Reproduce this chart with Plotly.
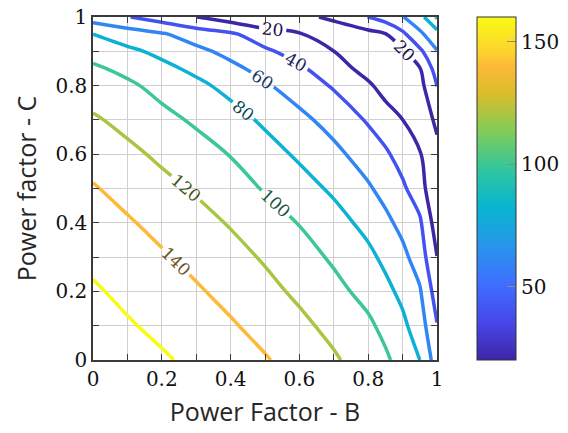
import plotly.graph_objects as go

# Grid of power factors (B along x, C along y)
B_VALUES = [0, 0.1, 0.2, 0.3, 0.4, 0.5, 0.6, 0.7, 0.8, 0.85, 0.9, 0.95, 1.0]
C_VALUES = [0, 0.1, 0.2, 0.3, 0.4, 0.5, 0.6, 0.7, 0.8, 0.85, 0.9, 0.95, 1.0]

# Values (rows: C, columns: B)
Z_VALUES = [
    [172, 167.5, 162.3, 155.7, 148.7, 141.5, 132.4, 122.5, 110, 103, 93, 80, 50],
    [167.5, 161.8, 155.7, 149, 142, 133.7, 124.6, 114.4, 103.4, 95, 84.2, 69.8, 41],
    [162.3, 155.7, 148.9, 142.2, 134.3, 125.7, 116.2, 105.5, 94, 85, 75.3, 62, 30.4],
    [155.7, 149, 142.2, 134.6, 126.6, 117.9, 107.9, 97.2, 84.5, 75.6, 65, 50.6, 20.3],
    [148.7, 142, 134.3, 126.6, 118.5, 108.8, 99.2, 87.6, 74.2, 64.7, 54.4, 43, 9.9],
    [141.5, 133.7, 125.7, 117.9, 108.8, 98.4, 88, 76.7, 62.4, 53.5, 43.2, 29.2, 1],
    [132.4, 124.6, 116.2, 107.9, 99.2, 88, 76.9, 65.1, 50.6, 42.9, 32.2, 21, 12.7],
    [122.5, 114.4, 105.5, 97.2, 87.6, 76.7, 65.1, 52.6, 38, 29.4, 20.2, 2.2, 25.5],
    [110, 103.4, 94, 84.5, 74.2, 62.4, 50.6, 38, 23.2, 12.3, 1.6, 13.5, 40.3],
    [103, 95, 85, 75.6, 64.7, 53.5, 42.9, 29.4, 12.3, 3.7, 8.4, 19, 49],
    [93, 84.2, 75.3, 65, 54.4, 43.2, 32.2, 20.2, 1.6, 8.4, 17.7, 36, 59.1],
    [80, 69.8, 62, 50.6, 43, 29.2, 21, 2.2, 13.5, 19, 36, 56.5, 72.1],
    [50, 41, 30.4, 20.3, 9.9, 1, 12.7, 25.5, 40.3, 49, 59.1, 72.1, 103],
]

LEVELS = [20, 40, 60, 80, 100, 120, 140, 160]
CBAR_MIN, CBAR_MAX = 20, 160
CBAR_TICKS = [50, 100, 150]

PARULA = [
    [0.0, (62, 38, 168)],
    [1 / 9, (71, 71, 235)],
    [2 / 9, (62, 111, 255)],
    [3 / 9, (39, 150, 235)],
    [4 / 9, (8, 181, 208)],
    [5 / 9, (49, 198, 159)],
    [6 / 9, (129, 204, 89)],
    [7 / 9, (220, 189, 41)],
    [0.857, (254, 185, 56)],
    [8 / 9, (252, 207, 48)],
    [1.0, (249, 251, 21)],
]


def cmap(t):
    t = min(max(t, 0.0), 1.0)
    for (t0, c0), (t1, c1) in zip(PARULA[:-1], PARULA[1:]):
        if t0 <= t <= t1:
            f = 0 if t1 == t0 else (t - t0) / (t1 - t0)
            return tuple(c0[i] + f * (c1[i] - c0[i]) for i in range(3))
    return PARULA[-1][1]


def rgb(c, k=1.0):
    return "rgb(%d,%d,%d)" % tuple(int(round(v * k)) for v in c)


COLORSCALE = [[t, rgb(c)] for t, c in PARULA]

SERIF = "DejaVu Serif"
SANS = "Open Sans"
CB_X = 1.1163

fig = go.Figure()

for lev in LEVELS:
    c = cmap((lev - CBAR_MIN) / (CBAR_MAX - CBAR_MIN))
    fig.add_trace(go.Contour(
        x=B_VALUES, y=C_VALUES, z=Z_VALUES,
        autocontour=False,
        contours=dict(start=lev, end=lev, size=20, coloring="none",
                      showlabels=True,
                      labelfont=dict(family=SERIF, size=17, color=rgb(c, 0.42))),
        line=dict(color=rgb(c), width=3.5, smoothing=1.0),
        showscale=False, hoverinfo="skip",
    ))

# colour bar
fig.add_trace(go.Scatter(
    x=[None], y=[None], mode="markers", hoverinfo="skip", showlegend=False,
    marker=dict(color=[CBAR_MIN], colorscale=COLORSCALE, cmin=CBAR_MIN, cmax=CBAR_MAX,
                showscale=True,
                colorbar=dict(x=CB_X, xanchor="left", y=0.5, yanchor="middle",
                              len=1.0, lenmode="fraction", thickness=39,
                              xpad=0, ypad=0, outlinewidth=1, outlinecolor="#333333",
                              tickvals=CBAR_TICKS, ticks="inside", ticklen=9,
                              tickcolor="#8a8a8a", tickwidth=1,
                              tickfont=dict(family=SERIF, size=20, color="#111111"))),
))

# left-side tick dashes of the colour bar
for v in CBAR_TICKS:
    yp = (v - CBAR_MIN) / (CBAR_MAX - CBAR_MIN)
    fig.add_shape(type="line", xref="paper", yref="paper",
                  x0=CB_X, x1=CB_X + 9 / 344, y0=yp, y1=yp,
                  line=dict(color="#8a8a8a", width=1))

axis_common = dict(
    range=[0, 1], dtick=0.2, tick0=0, automargin=False,
    showgrid=True, gridcolor="#d0d0d0", gridwidth=1,
    zeroline=False, showline=True, linecolor="#3a3a3a", linewidth=1.5,
    mirror="ticks", ticks="inside", ticklen=6, tickcolor="#3a3a3a",
    minor=dict(dtick=0.1, showgrid=True, gridcolor="#d0d0d0", ticks="inside",
               ticklen=6, tickcolor="#3a3a3a"),
    tickfont=dict(family=SERIF, size=20, color="#111111"),
)

fig.update_layout(
    width=568, height=433,
    margin=dict(l=93, r=131, t=17, b=73, autoexpand=False),
    paper_bgcolor="white", plot_bgcolor="white",
    showlegend=False,
    xaxis=dict(axis_common, title=dict(text="Power Factor - B", standoff=14,
                                       font=dict(family=SANS, size=25, color="#262626"))),
    yaxis=dict(axis_common, title=dict(text="Power factor - C", standoff=12,
                                       font=dict(family=SANS, size=25, color="#262626"))),
)

fig.write_html("out.html")
